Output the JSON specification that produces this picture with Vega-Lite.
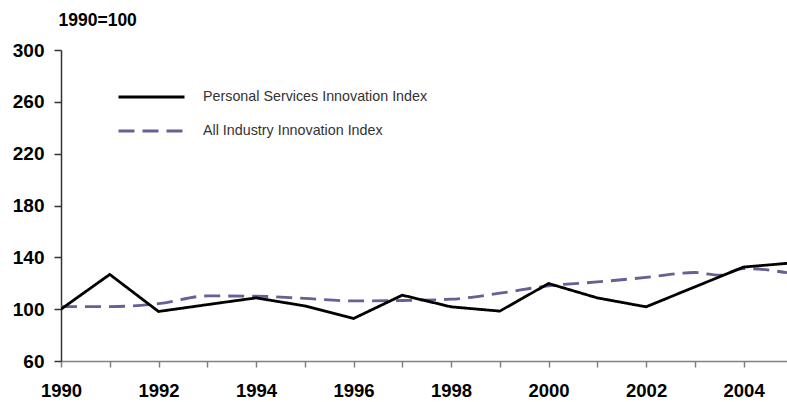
{
  "$schema": "https://vega.github.io/schema/vega-lite/v6.json",
  "autosize": "none",
  "width": 726,
  "height": 311,
  "padding": {"left": 61, "top": 50, "right": 0, "bottom": 41},
  "background": "white",
  "config": {
    "view": {"stroke": null},
    "font": "Liberation Sans"
  },
  "data": {
    "values": [
      {"year": 1990, "series": "Personal Services Innovation Index", "value": 100},
      {"year": 1991, "series": "Personal Services Innovation Index", "value": 126.8},
      {"year": 1992, "series": "Personal Services Innovation Index", "value": 98.2},
      {"year": 1993, "series": "Personal Services Innovation Index", "value": 103.5},
      {"year": 1994, "series": "Personal Services Innovation Index", "value": 108.7},
      {"year": 1995, "series": "Personal Services Innovation Index", "value": 102.5},
      {"year": 1996, "series": "Personal Services Innovation Index", "value": 92.8},
      {"year": 1997, "series": "Personal Services Innovation Index", "value": 110.8},
      {"year": 1998, "series": "Personal Services Innovation Index", "value": 101.8},
      {"year": 1999, "series": "Personal Services Innovation Index", "value": 98.5},
      {"year": 2000, "series": "Personal Services Innovation Index", "value": 119.8},
      {"year": 2001, "series": "Personal Services Innovation Index", "value": 108.7},
      {"year": 2002, "series": "Personal Services Innovation Index", "value": 101.8},
      {"year": 2003, "series": "Personal Services Innovation Index", "value": 117.2},
      {"year": 2004, "series": "Personal Services Innovation Index", "value": 132.5},
      {"year": 2005, "series": "Personal Services Innovation Index", "value": 135.7},
      {"year": 1990, "series": "All Industry Innovation Index", "value": 102},
      {"year": 1991, "series": "All Industry Innovation Index", "value": 102},
      {"year": 1992, "series": "All Industry Innovation Index", "value": 104.2},
      {"year": 1993, "series": "All Industry Innovation Index", "value": 110.2},
      {"year": 1994, "series": "All Industry Innovation Index", "value": 110},
      {"year": 1995, "series": "All Industry Innovation Index", "value": 108.3},
      {"year": 1996, "series": "All Industry Innovation Index", "value": 106.4},
      {"year": 1997, "series": "All Industry Innovation Index", "value": 106.7},
      {"year": 1998, "series": "All Industry Innovation Index", "value": 107.7},
      {"year": 1999, "series": "All Industry Innovation Index", "value": 112.3},
      {"year": 2000, "series": "All Industry Innovation Index", "value": 118},
      {"year": 2001, "series": "All Industry Innovation Index", "value": 121},
      {"year": 2002, "series": "All Industry Innovation Index", "value": 124.5},
      {"year": 2003, "series": "All Industry Innovation Index", "value": 128.3},
      {"year": 2003.5, "series": "All Industry Innovation Index", "value": 126.2},
      {"year": 2004, "series": "All Industry Innovation Index", "value": 131.4},
      {"year": 2005, "series": "All Industry Innovation Index", "value": 127.5}
    ]
  },
  "encoding": {
    "x": {
      "field": "year",
      "type": "quantitative",
      "scale": {"domain": [1990, 2004.89], "nice": false, "zero": false},
      "axis": {
        "title": null,
        "grid": false,
        "values": [1990, 1991, 1992, 1993, 1994, 1995, 1996, 1997, 1998, 1999, 2000, 2001, 2002, 2003, 2004],
        "labelExpr": "datum.value % 2 == 0 ? datum.value : ''",
        "format": "d",
        "domainColor": "#808080",
        "domainWidth": 1.5,
        "tickColor": "#808080",
        "tickWidth": 1.5,
        "tickSize": 6,
        "labelFontSize": 18.5,
        "labelFontWeight": "bold",
        "labelColor": "#000",
        "labelPadding": 14,
        "labelFlush": false,
        "labelOverlap": false
      }
    },
    "y": {
      "field": "value",
      "type": "quantitative",
      "scale": {"domain": [60, 300], "nice": false, "zero": false},
      "axis": {
        "title": "1990=100",
        "titleAngle": 0,
        "titleAlign": "left",
        "titleBaseline": "alphabetic",
        "titleX": -3,
        "titleY": -25,
        "titleFontSize": 17.5,
        "titleFontWeight": "bold",
        "titleColor": "#000",
        "grid": false,
        "values": [60, 100, 140, 180, 220, 260, 300],
        "domainColor": "#333",
        "domainWidth": 1.5,
        "tickColor": "#333",
        "tickWidth": 1.5,
        "tickSize": 7,
        "labelFontSize": 19,
        "labelFontWeight": "bold",
        "labelColor": "#000",
        "labelPadding": 10
      }
    },
    "color": {
      "field": "series",
      "type": "nominal",
      "scale": {
        "domain": ["Personal Services Innovation Index", "All Industry Innovation Index"],
        "range": ["#000000", "#675f95"]
      },
      "legend": {
        "title": null,
        "orient": "none",
        "legendX": 56,
        "legendY": 37,
        "padding": 0,
        "symbolType": "stroke",
        "symbolSize": 4356,
        "symbolStrokeWidth": 2.8,
        "clipHeight": 20,
        "rowPadding": 14,
        "labelOffset": 17,
        "labelFontSize": 14.3,
        "labelColor": "#333",
        "labelLimit": 400
      }
    },
    "strokeDash": {
      "field": "series",
      "type": "nominal",
      "scale": {
        "domain": ["Personal Services Innovation Index", "All Industry Innovation Index"],
        "range": [[1, 0], [16, 8]]
      },
      "legend": null
    }
  },
  "layer": [
    {
      "transform": [{"filter": "datum.series === 'All Industry Innovation Index'"}],
      "mark": {"type": "line", "clip": true, "strokeWidth": 2.8, "interpolate": "monotone", "strokeCap": "butt"}
    },
    {
      "transform": [{"filter": "datum.series === 'Personal Services Innovation Index'"}],
      "mark": {"type": "line", "clip": true, "strokeWidth": 2.8, "interpolate": "linear", "strokeCap": "butt"}
    }
  ]
}
